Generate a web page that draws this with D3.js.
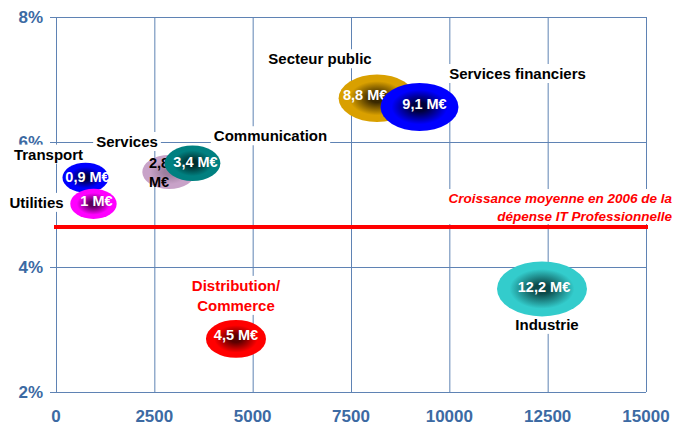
<!DOCTYPE html>
<html>
<head>
<meta charset="utf-8">
<script src="https://cdn.jsdelivr.net/npm/d3@7"></script>
<style>
  html, body { margin: 0; padding: 0; background: #fff; }
  svg { display: block; font-family: "Liberation Sans", Arial, sans-serif; }
</style>
</head>
<body>
<svg id="chart" width="689" height="423"></svg>
<script>
// ---------- DATA ----------
const categories = ["Transport", "Utilities", "Services", "Communication", "Secteur public", "Services financiers", "Distribution/Commerce", "Industrie"];
const spending = [750, 953, 2873, 3470, 8161, 9242, 4576, 12356];      // x axis
const growth = [5.43, 5.01, 5.52, 5.66, 6.70, 6.56, 2.85, 3.65];       // y axis (%)
const budget = [0.9, 1, 2.8, 3.4, 8.8, 9.1, 4.5, 12.2];                // bubble size (M€)
const budgetLabels = ["0,9 M€", "1 M€", "2,8 M€", "3,4 M€", "8,8 M€", "9,1 M€", "4,5 M€", "12,2 M€"];
const xTicks = [0, 2500, 5000, 7500, 10000, 12500, 15000];
const yTicks = [2, 4, 6, 8];
const yTickLabels = ["2%", "4%", "6%", "8%"];
const averageGrowth = 4.64;
const averageLabel = ["Croissance moyenne en 2006 de la", "dépense IT Professionnelle"];

// ---------- STYLE / LAYOUT ----------
const palette = ["#0000FF", "#FF00FF", "#C8A2C8", "#008080", "#D9A000", "#0000FF", "#FF0000", "#33CCCC"];
const paletteDark = ["#00004A", "#5A005A", "#9E7E9E", "#002E2E", "#3A2800", "#00003A", "#5A0000", "#0C4A4A"];
// label placement relative to bubble centre (pixels)
const catLayout = {
  "Transport":             { dx: -37, dy: -18, color: "#000" },
  "Utilities":             { dx: -57, dy: 4,   color: "#000" },
  "Services":              { dx: -42, dy: -25, color: "#000" },
  "Communication":         { dx: 78,  dy: -22, color: "#000" },
  "Secteur public":        { dx: -57, dy: -34, color: "#000" },
  "Services financiers":   { dx: 98,  dy: -28, color: "#000" },
  "Distribution/Commerce": { dx: 0,   dy: -48, color: "#FF0000", lines: ["Distribution/", "Commerce"] },
  "Industrie":             { dx: 5,   dy: 41,  color: "#000" }
};
const valLayout = {
  "Transport": { dx: 2, dy: 4 }, "Utilities": { dx: 3, dy: 2 },
  "Services": { dx: -20, dy: -4, color: "#000", lines: ["2,8", "M€"], anchor: "start" },
  "Communication": { dx: 3, dy: 4 }, "Secteur public": { dx: -34, dy: 2, anchor: "start" },
  "Services financiers": { dx: 5, dy: 2 }, "Distribution/Commerce": { dx: 0, dy: 1 },
  "Industrie": { dx: 2, dy: 3 }
};

const svg = d3.select("#chart");
const margin = { left: 56, right: 43, top: 17, bottom: 31 };
const W = 689, H = 423;

const x = d3.scaleLinear().domain([0, 15000]).range([margin.left, W - margin.right]);
const y = d3.scaleLinear().domain([2, 8]).range([H - margin.bottom, margin.top]);
const rx = d3.scaleLinear().domain([0.9, 12.2]).range([23, 45]);
const ry = d3.scaleLinear().domain([0.9, 12.2]).range([15, 27.5]);

const gridColor = "#5F83B4";
const tickColor = "#3C6AA3";

// gradients
const defs = svg.append("defs");
palette.forEach((c, i) => {
  const g = defs.append("radialGradient").attr("id", "grad" + i)
    .attr("cx", "50%").attr("cy", "50%").attr("r", "50%");
  g.append("stop").attr("offset", "0%").attr("stop-color", paletteDark[i]);
  g.append("stop").attr("offset", "18%").attr("stop-color", paletteDark[i]);
  g.append("stop").attr("offset", "72%").attr("stop-color", c);
  g.append("stop").attr("offset", "100%").attr("stop-color", c);
});

// grid (axes through D3)
const gx = svg.append("g").attr("transform", `translate(0,${y(8)})`)
  .call(d3.axisBottom(x).tickValues(xTicks).tickSize(y(2) - y(8)).tickFormat(""));
gx.select(".domain").remove();
gx.selectAll("line").attr("stroke", gridColor).attr("stroke-width", 1);

const gy = svg.append("g").attr("transform", `translate(${x(0)},0)`)
  .call(d3.axisRight(y).tickValues(yTicks).tickSize(x(15000) - x(0)).tickFormat(""));
gy.select(".domain").remove();
gy.selectAll("line").attr("stroke", gridColor).attr("stroke-width", 1).attr("x1", -6);

// tick labels
svg.append("g").selectAll("text").data(xTicks).join("text")
  .attr("x", d => x(d)).attr("y", y(2) + 30)
  .attr("text-anchor", "middle")
  .attr("font-size", 17).attr("font-weight", "bold").attr("fill", tickColor)
  .text(d => d);
svg.append("g").selectAll("text").data(yTicks).join("text")
  .attr("x", 43).attr("y", d => y(d) + 6)
  .attr("text-anchor", "end")
  .attr("font-size", 17).attr("font-weight", "bold").attr("fill", tickColor)
  .text((d, i) => yTickLabels[i]);

// average line
svg.append("line")
  .attr("x1", x(0) - 2).attr("x2", x(15000) + 2)
  .attr("y1", y(averageGrowth)).attr("y2", y(averageGrowth))
  .attr("stroke", "#FF0000").attr("stroke-width", 4);

// average label with white background
const avgG = svg.append("g");
const avgT = avgG.append("text")
  .attr("text-anchor", "end").attr("font-size", 13.5)
  .attr("font-weight", "bold").attr("font-style", "italic").attr("fill", "#FF0000");
avgT.selectAll("tspan").data(averageLabel).join("tspan")
  .attr("x", 672).attr("y", (d, i) => y(averageGrowth) - 24 + i * 18)
  .text(d => d);
{
  const b = avgT.node().getBBox();
  avgG.insert("rect", "text").attr("x", b.x - 4).attr("y", b.y - 2)
    .attr("width", b.width + 8).attr("height", b.height + 2).attr("fill", "#fff");
}

// category labels with white backgrounds
categories.forEach((c, i) => {
  const L = catLayout[c];
  const cx = x(spending[i]), cy = y(growth[i]);
  const g = svg.append("g");
  const lines = L.lines || [c];
  const t = g.append("text").attr("text-anchor", "middle")
    .attr("font-size", 15).attr("font-weight", "bold").attr("fill", L.color);
  t.selectAll("tspan").data(lines).join("tspan")
    .attr("x", cx + L.dx).attr("y", (d, j) => cy + L.dy + j * 20)
    .text(d => d);
  const b = t.node().getBBox();
  g.insert("rect", "text").attr("x", b.x - 3).attr("y", b.y - 1)
    .attr("width", b.width + 6).attr("height", b.height + 2).attr("fill", "#fff");
});

// bubbles and values
categories.forEach((c, i) => {
  const cx = x(spending[i]), cy = y(growth[i]);
  svg.append("ellipse")
    .attr("cx", cx).attr("cy", cy)
    .attr("rx", rx(budget[i])).attr("ry", ry(budget[i]))
    .attr("fill", `url(#grad${i})`);
  const V = valLayout[c];
  const lines = V.lines || [budgetLabels[i]];
  const t = svg.append("text")
    .attr("text-anchor", V.anchor || "middle")
    .attr("font-size", 14.5).attr("font-weight", "bold")
    .attr("fill", V.color || "#fff");
  t.selectAll("tspan").data(lines).join("tspan")
    .attr("x", cx + V.dx).attr("y", (d, j) => cy + V.dy + j * 19)
    .text(d => d);
});
</script>
</body>
</html>
